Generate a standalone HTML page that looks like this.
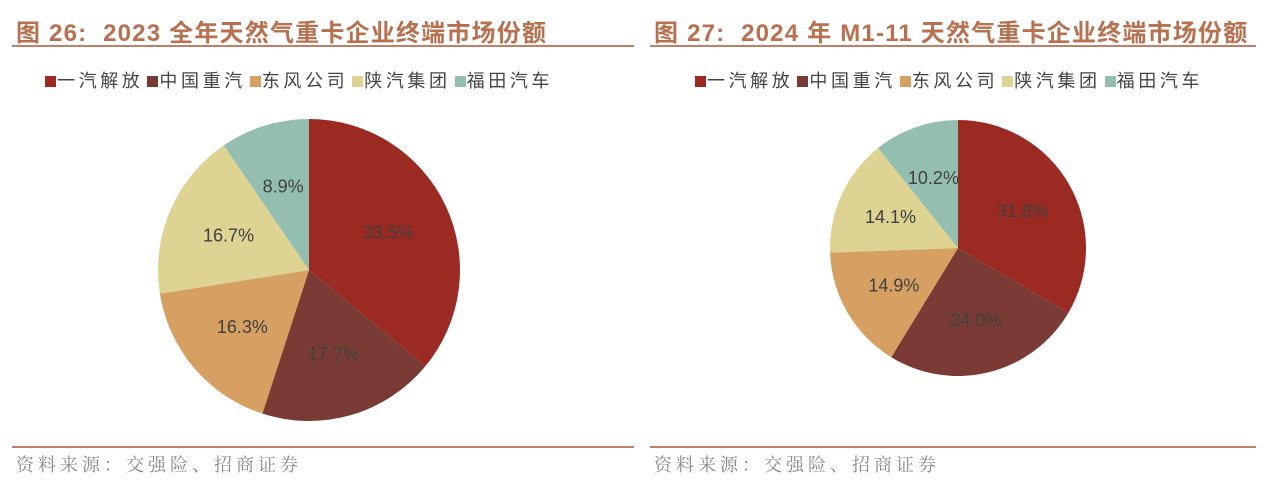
<!DOCTYPE html>
<html><head><meta charset="utf-8"><style>
body{margin:0;width:1269px;height:482px;background:#fff;overflow:hidden;position:relative;font-family:"Liberation Sans","Noto Sans CJK SC",sans-serif}
.t{position:absolute;top:13px;font-size:24px;font-weight:bold;color:#b9704f;white-space:nowrap;letter-spacing:1.2px}
.ln{position:absolute;height:2px;background:#c08068}
.src{position:absolute;top:451px;font-family:"Liberation Serif","Noto Serif CJK SC",serif;font-size:18px;color:#888;letter-spacing:4px}
.lg{position:absolute;top:67px;font-size:18px;color:#444;white-space:nowrap;letter-spacing:3.6px}
.lg span{display:inline-block;margin-right:4px}
.lg i{display:inline-block;width:11px;height:11px;margin-right:1px;vertical-align:0}
svg{position:absolute;left:0;top:0}
</style></head><body>
<div class="t" style="left:16px">图 26:&nbsp; 2023 全年天然气重卡企业终端市场份额</div>
<div class="t" style="left:654px">图 27:&nbsp; 2024 年 M1-11 天然气重卡企业终端市场份额</div>
<div class="ln" style="left:12px;width:622px;top:45px"></div>
<div class="ln" style="left:650px;width:606px;top:45px"></div>
<div class="ln" style="left:12px;width:622px;top:446px"></div>
<div class="ln" style="left:650px;width:606px;top:446px"></div>
<div class="src" style="left:16px">资料来源：交强险、招商证券</div>
<div class="src" style="left:654px">资料来源：交强险、招商证券</div>
<div class="lg" id="lg1" style="left:45px"></div>
<div class="lg" id="lg2" style="left:695px"></div>
<svg id="svg" width="1269" height="482"></svg>
<script>
const categories=["一汽解放","中国重汽","东风公司","陕汽集团","福田汽车"];
const values2023=[33.5,17.7,16.3,16.7,8.9];
const values2024=[31.8,24.0,14.9,14.1,10.2];
const colors=["#9b2a22","#7a3b35","#d6a062","#ddd393","#94bfb0"];
const NS="http://www.w3.org/2000/svg";
const svg=document.getElementById('svg');
function legend(id){
  const d=document.getElementById(id);
  categories.forEach((c,i)=>{
    const s=document.createElement('span');
    
    
    s.innerHTML='<i style="background:'+colors[i]+'"></i>'+c;
    d.appendChild(s);
  });
}
legend('lg1');legend('lg2');
function pie(vals,cx,cy,r,name){
  const tot=vals.reduce((a,b)=>a+b,0);
  let a0=0;
  vals.forEach((v,i)=>{
    const a1=a0+v/tot*2*Math.PI;
    const p=a=>[cx+r*Math.sin(a),cy-r*Math.cos(a)];
    const [x0,y0]=p(a0),[x1,y1]=p(a1);
    const path=document.createElementNS(NS,'path');
    path.setAttribute('d',`M${cx},${cy}L${x0},${y0}A${r},${r} 0 ${a1-a0>Math.PI?1:0} 1 ${x1},${y1}Z`);
    path.setAttribute('fill',colors[i]);
    
    
    svg.appendChild(path);
    const m=(a0+a1)/2;
    const t=document.createElementNS(NS,'text');
    t.setAttribute('x',cx+r*0.58*Math.sin(m));
    t.setAttribute('y',cy-r*0.58*Math.cos(m)+6);
    t.setAttribute('text-anchor','middle');
    t.setAttribute('font-size','18');
    t.setAttribute('fill','#404040');
    t.setAttribute('font-family','Liberation Sans, sans-serif');
    
    
    t.textContent=v.toFixed(1)+'%';
    svg.appendChild(t);
    a0=a1;
  });
}
pie(values2023,309,270,151,'pie-2023');
pie(values2024,958,248,128,'pie-2024');
</script>
</body></html>
